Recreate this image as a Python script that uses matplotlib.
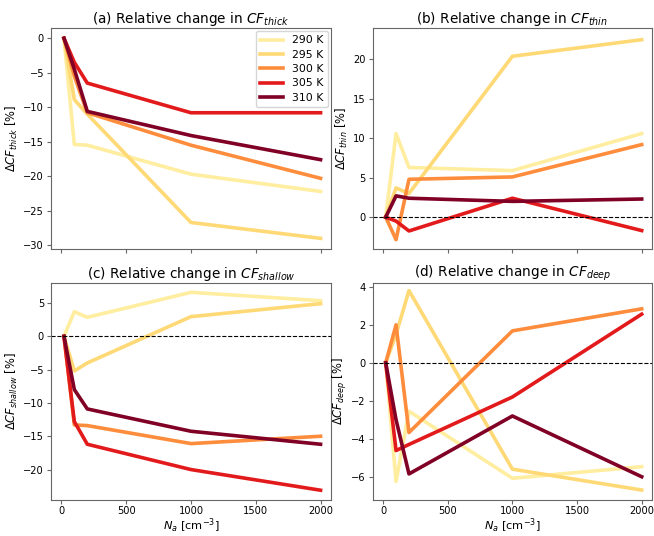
import matplotlib
matplotlib.use("Agg")
import matplotlib.pyplot as plt

Na = [20, 100, 200, 1000, 2000]
temps = ["290 K", "295 K", "300 K", "305 K", "310 K"]
colors = ["#ffeda0", "#fed976", "#fd8d3c", "#e31a1c", "#800026"]

thick = {
    "290 K": [0, -15.4, -15.5, -19.7, -22.2],
    "295 K": [0, -8.9, -11.0, -26.7, -29.0],
    "300 K": [0, -5.5, -10.8, -15.5, -20.3],
    "305 K": [0, -3.5, -6.5, -10.8, -10.8],
    "310 K": [0, -4.5, -10.6, -14.1, -17.6],
}
thin = {
    "290 K": [0, 10.6, 6.3, 5.9, 10.6],
    "295 K": [0, 3.7, 3.0, 20.4, 22.5],
    "300 K": [0, -2.85, 4.8, 5.1, 9.2],
    "305 K": [0, -0.5, -1.75, 2.4, -1.7],
    "310 K": [0, 2.7, 2.4, 2.0, 2.3],
}
shallow = {
    "290 K": [0, 3.7, 2.85, 6.6, 5.35],
    "295 K": [0, -5.2, -4.0, 2.95, 4.9],
    "300 K": [0, -13.3, -13.4, -16.1, -15.0],
    "305 K": [0, -12.8, -16.2, -20.0, -23.1],
    "310 K": [0, -8.0, -10.9, -14.25, -16.2],
}
deep = {
    "290 K": [0, -6.25, -2.55, -6.08, -5.47],
    "295 K": [0, 1.5, 3.8, -5.6, -6.7],
    "300 K": [0, 2.0, -3.67, 1.68, 2.84],
    "305 K": [0, -4.62, -4.3, -1.8, 2.56],
    "310 K": [0, -3.0, -5.85, -2.8, -6.0],
}

panels = [
    (thick, r"(a) Relative change in $CF_{thick}$", r"$\Delta CF_{thick}$ [%]", False),
    (thin, r"(b) Relative change in $CF_{thin}$", r"$\Delta CF_{thin}$ [%]", True),
    (shallow, r"(c) Relative change in $CF_{shallow}$", r"$\Delta CF_{shallow}$ [%]", True),
    (deep, r"(d) Relative change in $CF_{deep}$", r"$\Delta CF_{deep}$ [%]", True),
]

fig = plt.figure(figsize=(6.54, 5.36), dpi=100)
boxes = [
    (0.078, 0.536, 0.428, 0.412),
    (0.570, 0.536, 0.427, 0.412),
    (0.078, 0.068, 0.428, 0.404),
    (0.570, 0.068, 0.427, 0.404),
]
spine_col = "#666666"
for i, ((data, title, ylabel, zero), box) in enumerate(zip(panels, boxes)):
    ax = fig.add_axes(box)
    for t, c in zip(temps, colors):
        ax.plot(Na, data[t], color=c, lw=2.6, label=t)
    if zero:
        ax.axhline(0, color="black", ls="--", lw=0.8)
    ax.set_title(title, fontsize=9.8, pad=3)
    ax.set_ylabel(ylabel, fontsize=8.3, labelpad=2)
    ax.set_xlim(-80, 2080)
    ax.set_xticks([0, 500, 1000, 1500, 2000])
    if i >= 2:
        ax.set_xlabel(r"$N_a$ [cm$^{-3}$]", fontsize=8.2, labelpad=0)
    else:
        ax.set_xticklabels([])
    ax.tick_params(labelsize=7.1, length=3, width=0.8, color=spine_col, pad=2)
    for s in ax.spines.values():
        s.set_color(spine_col)
        s.set_linewidth(0.8)
    if i == 0:
        ax.set_ylim(-30.5, 1.5)
        ax.set_yticks([0, -5, -10, -15, -20, -25, -30])
        ax.legend(loc="upper right", fontsize=7.8, handlelength=2.1,
                  borderaxespad=0.3, labelspacing=0.4)
    elif i == 1:
        ax.set_ylim(-4, 24)
        ax.set_yticks([0, 5, 10, 15, 20])
    elif i == 2:
        ax.set_ylim(-24.5, 8)
        ax.set_yticks([5, 0, -5, -10, -15, -20])
    else:
        ax.set_ylim(-7.2, 4.2)
        ax.set_yticks([4, 2, 0, -2, -4, -6])

fig.savefig("out.png", dpi=100)
